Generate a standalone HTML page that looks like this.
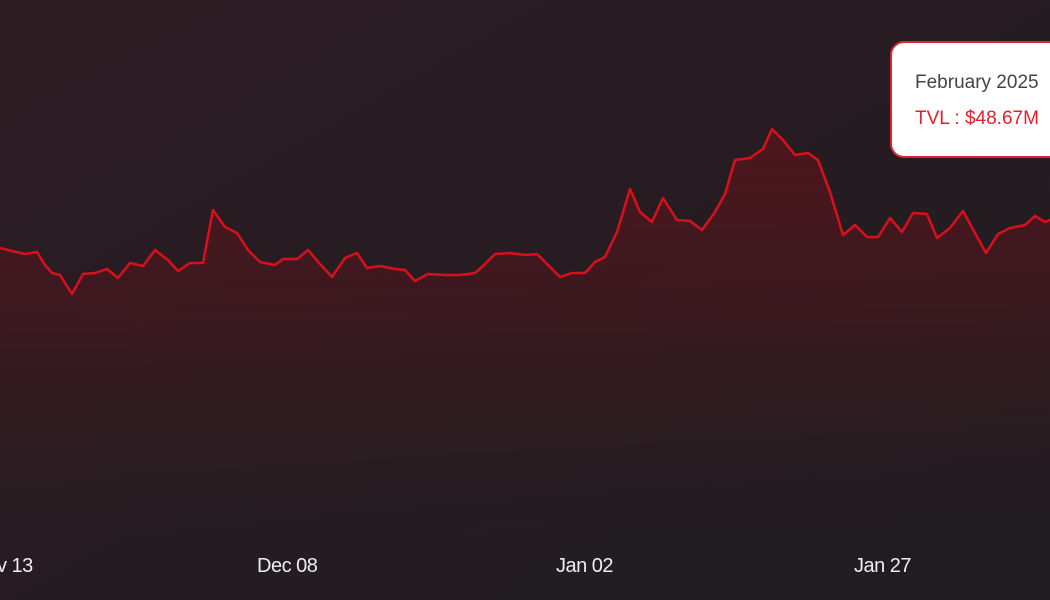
<!DOCTYPE html>
<html><head><meta charset="utf-8"><style>
html,body{margin:0;padding:0;width:1050px;height:600px;overflow:hidden;background:#221e22;}
.lbl{position:absolute;top:555px;font:20px "Liberation Sans",sans-serif;color:#eeeeee;letter-spacing:-0.5px;}
.tip{position:absolute;left:890px;top:41px;width:200px;height:113px;background:#fff;border:2px solid #e0222d;border-radius:14px;}
.t1{position:absolute;left:915px;top:72px;font:19px "Liberation Sans",sans-serif;color:#444;}
.t2{position:absolute;left:915px;top:108px;font:19px "Liberation Sans",sans-serif;color:#e0222d;}
</style></head><body>
<svg width="1050" height="600" style="position:absolute;left:0;top:0">
<defs>
<linearGradient id="bg" x1="0" y1="0" x2="1" y2="1">
<stop offset="0" stop-color="#2c1c22"/><stop offset="1" stop-color="#1f1d21"/>
</linearGradient>
<linearGradient id="fill" x1="0" y1="0" x2="0" y2="1">
<stop offset="0" stop-color="#6a121c" stop-opacity="0.6"/><stop offset="0.45" stop-color="#5a141c" stop-opacity="0.4"/><stop offset="1" stop-color="#3a1a1f" stop-opacity="0"/>
</linearGradient>
</defs>
<rect width="1050" height="600" fill="url(#bg)"/>
<path id="p" d="M0,248 L12,251 L25,254 L37,252 L45,265 L52,273 L60,275 L72,294 L83,274 L95,273 L107,269 L118,278 L130,263 L143,266 L155,250 L168,260 L178,271 L190,263 L203,263 L213,210 L225,227 L237,233 L248,250 L260,262 L275,265 L283,259 L297,259 L308,250 L320,264 L332,277 L345,258 L357,253 L367,268 L380,266 L395,269 L405,270 L415,281 L428,274 L445,275 L460,275 L475,273 L483,266 L495,254 L510,253 L525,255 L537,254 L550,267 L560,277 L572,273 L585,273 L595,262 L605,257 L617,232 L630,189 L640,212 L652,222 L663,198 L677,220 L690,221 L702,230 L715,212 L725,194 L735,160 L750,158 L763,149 L772,129 L783,140 L795,155 L808,153 L818,160 L830,192 L843,235 L855,225 L867,237 L878,237 L890,218 L902,232 L913,213 L927,214 L937,238 L950,228 L963,211 L975,233 L986,253 L998,234 L1010,228 L1025,225 L1035,216 L1045,222 L1050,220" fill="none"/>
<path d="M0,248 L12,251 L25,254 L37,252 L45,265 L52,273 L60,275 L72,294 L83,274 L95,273 L107,269 L118,278 L130,263 L143,266 L155,250 L168,260 L178,271 L190,263 L203,263 L213,210 L225,227 L237,233 L248,250 L260,262 L275,265 L283,259 L297,259 L308,250 L320,264 L332,277 L345,258 L357,253 L367,268 L380,266 L395,269 L405,270 L415,281 L428,274 L445,275 L460,275 L475,273 L483,266 L495,254 L510,253 L525,255 L537,254 L550,267 L560,277 L572,273 L585,273 L595,262 L605,257 L617,232 L630,189 L640,212 L652,222 L663,198 L677,220 L690,221 L702,230 L715,212 L725,194 L735,160 L750,158 L763,149 L772,129 L783,140 L795,155 L808,153 L818,160 L830,192 L843,235 L855,225 L867,237 L878,237 L890,218 L902,232 L913,213 L927,214 L937,238 L950,228 L963,211 L975,233 L986,253 L998,234 L1010,228 L1025,225 L1035,216 L1045,222 L1050,220 L1050,540 L0,540 Z" fill="url(#fill)"/>
<use href="#p" stroke="#d9101c" stroke-width="2.5" stroke-linejoin="round" stroke-linecap="round"/>
</svg>
<div class="lbl" style="left:-3px">v 13</div>
<div class="lbl" style="left:257px">Dec 08</div>
<div class="lbl" style="left:556px">Jan 02</div>
<div class="lbl" style="left:854px">Jan 27</div>
<div class="tip"></div>
<div class="t1">February 2025</div>
<div class="t2">TVL : $48.67M</div>
</body></html>
